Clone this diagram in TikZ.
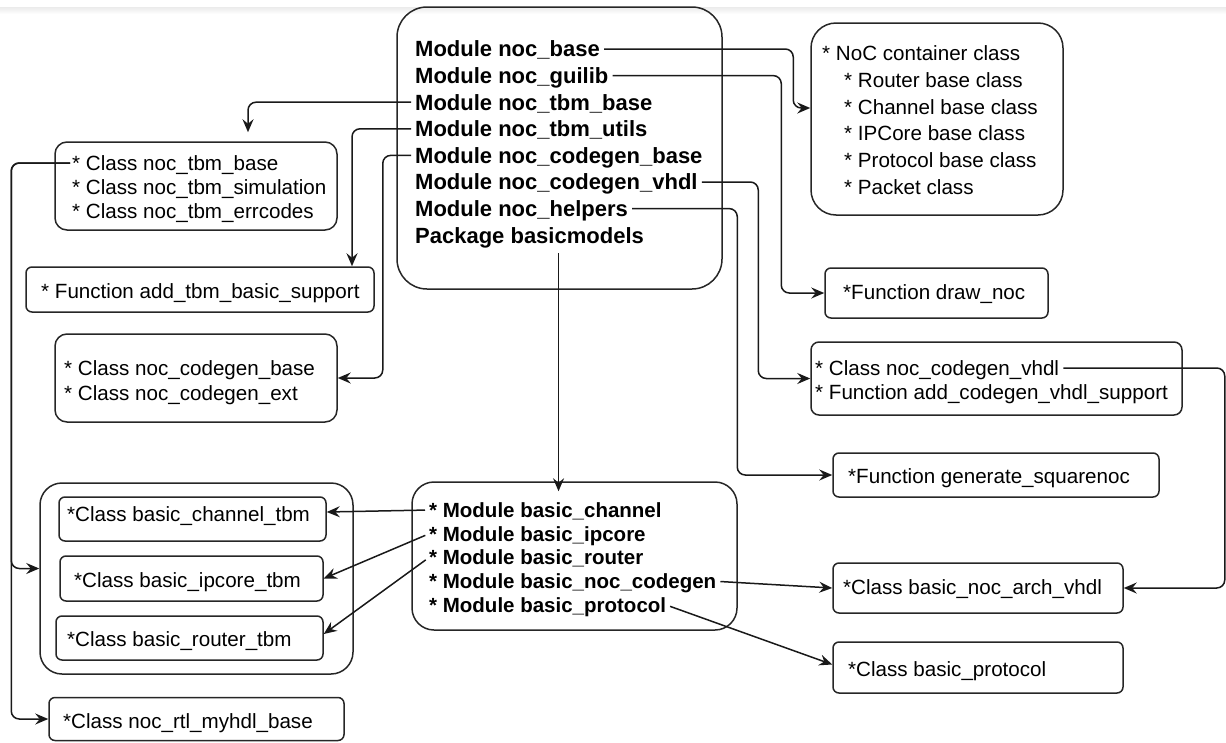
\documentclass[tikz,border=0pt]{standalone}
\usepackage{fontspec}
\setmainfont{Liberation Sans}
\usetikzlibrary{arrows.meta}

\newcommand{\itemfont}{\fontsize{20.6}{24}\selectfont}
\newcommand{\modfont}{\fontsize{22}{26}\selectfont\bfseries}
\newcommand{\submodfont}{\fontsize{20.5}{24}\selectfont\bfseries}

\begin{document}
\begin{tikzpicture}[x=1pt,y=-1pt,
    box/.style={draw=black!85,line width=1.5pt,rounded corners=#1,inner sep=0pt},
    box/.default=6pt,
    item/.style={anchor=west,inner sep=0pt,font=\itemfont,text height=14.8pt,text depth=0pt},
    mod/.style={item,font=\modfont,text height=15.8pt},
    submod/.style={item,font=\submodfont,text height=14.7pt},
    conn/.style={draw=black!90,line width=1.5pt,rounded corners=8pt,
      -{Stealth[length=13pt,width=11pt,inset=4.5pt]}},
    gap/.style={shorten <=4pt}]
  \useasboundingbox (0,0) rectangle (1226,742);
  \shade[top color=black!8,bottom color=white] (0,7) rectangle (1226,14);

  % packages
  \node[box=30pt,minimum width=325pt,minimum height=282pt] (pkgbox) at (559.5,148) {};
  \node[mod] (mbase)     at (415,49)    {Module noc\_base};
  \node[mod] (mgui)      at (415,75.6)  {Module noc\_guilib};
  \node[mod] (mtbmbase)  at (415,102.2) {Module noc\_tbm\_base};
  \node[mod] (mtbmutils) at (415,128.8) {Module noc\_tbm\_utils};
  \node[mod] (mcgbase)   at (415,155.4) {Module noc\_codegen\_base};
  \node[mod] (mcgvhdl)   at (415,182)   {Module noc\_codegen\_vhdl};
  \node[mod] (mhelpers)  at (415,208.6) {Module noc\_helpers};
  \node[mod] (pbasic)    at (415,235.2) {Package basicmodels};

  % right column
  \node[box=25pt,minimum width=252pt,minimum height=192pt] (contbox) at (937,119) {};
  \node[item] (cont0) at (822,53)  {* NoC container class};
  \node[item] (cont1) at (844,80)  {* Router base class};
  \node[item] (cont2) at (844,107) {* Channel base class};
  \node[item] (cont3) at (844,133) {* IPCore base class};
  \node[item] (cont4) at (844,160) {* Protocol base class};
  \node[item] (cont5) at (844,187) {* Packet class};

  \node[box,minimum width=223pt,minimum height=50pt] (drawbox) at (936.5,293) {};
  \node[item] (drawfn) at (843,292) {*Function draw\_noc};

  \node[box=8pt,minimum width=371pt,minimum height=73pt] (cgvbox) at (996.5,378.5) {};
  \node[item] (cgvcls) at (815,368) {* Class noc\_codegen\_vhdl};
  \node[item] (cgvfn)  at (815,392) {* Function add\_codegen\_vhdl\_support};

  \node[box,minimum width=326pt,minimum height=44pt] (sqbox) at (996,475) {};
  \node[item] (sqfn) at (848,476) {*Function generate\_squarenoc};

  \node[box,minimum width=290pt,minimum height=50pt] (archbox) at (978,588) {};
  \node[item] (archcls) at (843,587) {*Class basic\_noc\_arch\_vhdl};

  \node[box,minimum width=290pt,minimum height=51pt] (protbox) at (978,667.5) {};
  \node[item] (protcls) at (848,669) {*Class basic\_protocol};

  % basicmodels
  \node[box=22pt,minimum width=325pt,minimum height=148pt] (basicbox) at (574.5,556) {};
  \node[submod] (chmod)   at (429,510)   {* Module basic\_channel};
  \node[submod] (ipmod)   at (429,533.8) {* Module basic\_ipcore};
  \node[submod] (rtmod)   at (429,557.5) {* Module basic\_router};
  \node[submod] (ncgmod)  at (429,581.3) {* Module basic\_noc\_codegen};
  \node[submod] (protmod) at (429,605)   {* Module basic\_protocol};

  % left column
  \node[box=12pt,minimum width=282pt,minimum height=88pt] (tbmbox) at (196,186) {};
  \node[item] (tcls)  at (72,163) {* Class noc\_tbm\_base};
  \node[item] (tsim)  at (72,187) {* Class noc\_tbm\_simulation};
  \node[item] (terr)  at (72,211) {* Class noc\_tbm\_errcodes};

  \node[box,minimum width=348pt,minimum height=45pt] (addbox) at (200,289.5) {};
  \node[item] (addfn) at (41,291) {* Function add\_tbm\_basic\_support};

  \node[box=12pt,minimum width=282pt,minimum height=88pt] (cgbox) at (196,378) {};
  \node[item] (cgcls) at (64,368) {* Class noc\_codegen\_base};
  \node[item] (cgext) at (64,393) {* Class noc\_codegen\_ext};

  \node[box=22pt,minimum width=313pt,minimum height=191pt] (tbmgroup) at (196.5,578.5) {};
  \node[box,minimum width=267pt,minimum height=44pt] (chbox) at (192.5,519) {};
  \node[item] (chcls) at (67,514) {*Class basic\_channel\_tbm};
  \node[box,minimum width=263pt,minimum height=45pt] (ipbox) at (191.5,578.5) {};
  \node[item] (ipcls) at (74,580) {*Class basic\_ipcore\_tbm};
  \node[box,minimum width=267pt,minimum height=44pt] (rtbox) at (189.5,638) {};
  \node[item] (rtcls) at (67,639) {*Class basic\_router\_tbm};

  \node[box,minimum width=295pt,minimum height=43pt] (rtlbox) at (196.5,719) {};
  \node[item] (rtlcls) at (63,721) {*Class noc\_rtl\_myhdl\_base};

  % connectors
  \draw[conn,gap] (mbase.east) -| ([xshift=-17pt,yshift=11pt]contbox.west) -- ([yshift=11pt]contbox.west);
  \draw[conn,gap] (mgui.east) -| ([xshift=-43pt]drawbox.west) -- (drawbox.west);
  \draw[conn,gap] (mtbmbase.west) -| ([xshift=52pt,yshift=9pt]tbmbox.north);
  \draw[conn,gap] (mtbmutils.west) -| ([xshift=152pt]addbox.north);
  \draw[conn,gap] (mcgbase.west) -| ([xshift=45pt]cgbox.east) -- (cgbox.east);
  \draw[conn,gap] (mcgvhdl.east) -| ([xshift=-52pt]cgvbox.west) -- (cgvbox.west);
  \draw[conn,gap] (mhelpers.east) -| ([xshift=-95pt]sqbox.west) -- (sqbox.west);
  \draw[conn] ([xshift=29pt,yshift=-10pt]pbasic.south) -- ([xshift=29pt,yshift=-10pt]pbasic.south |- basicbox.north);

  \draw[conn,gap] (chmod.west) -- ([yshift=7pt]chbox.east);
  \draw[conn,gap] (ipmod.west) -- (ipbox.east);
  \draw[conn,gap] (rtmod.west) -- ([yshift=4pt]rtbox.east);
  \draw[conn,gap] (ncgmod.east) -- (archbox.west);
  \draw[conn,gap] (protmod.east) -- ([yshift=3pt]protbox.west);

  \draw[conn,gap] (cgvcls.east) -| ([xshift=101pt]archbox.east) -- (archbox.east);
  \draw[conn,shorten <=2pt] (tcls.west) -| ([xshift=-28pt,yshift=10pt]tbmgroup.west) -- ([yshift=10pt]tbmgroup.west);
  \draw[conn,shorten <=2pt] (tcls.west) -| ([xshift=-37pt]rtlbox.west) -- (rtlbox.west);
\end{tikzpicture}
\end{document}
